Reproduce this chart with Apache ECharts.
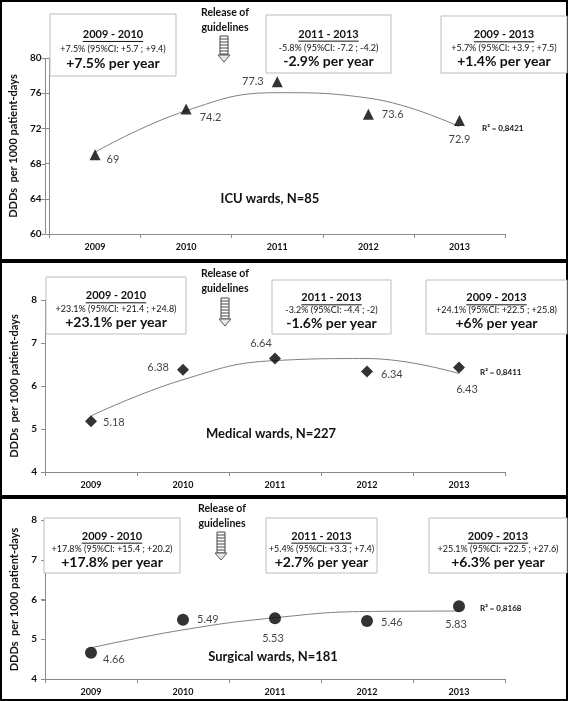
<!DOCTYPE html>
<html><head><meta charset="utf-8">
<script src="https://cdn.jsdelivr.net/npm/echarts@6/dist/echarts.min.js"></script>
<style>html,body{margin:0;padding:0;background:#fff}#c{width:568px;height:701px}</style>
</head><body><div id="c"></div>
<script>
// ---------- DATA ----------
const years = ['2009', '2010', '2011', '2012', '2013'];
const icuValues = [69, 74.2, 77.3, 73.6, 72.9];
const medicalValues = [5.18, 6.38, 6.64, 6.34, 6.43];
const surgicalValues = [4.66, 5.49, 5.53, 5.46, 5.83];
const icuAxis = { min: 60, max: 80, interval: 4 };
const wardAxis = { min: 4, max: 8, interval: 1 };
const panelTitles = ['ICU wards, N=85', 'Medical wards, N=227', 'Surgical wards, N=181'];
const r2Labels = ['R² = 0,8421', 'R² = 0,8411', 'R² = 0,8168'];
const yAxisTitle = 'DDDs  per 1000 patient-days';
const releaseText = 'Release of\nguidelines';
const icuBoxes = [
  ['2009 - 2010', '+7.5% (95%CI: +5.7 ; +9.4)', '+7.5% per year'],
  ['2011 - 2013', '-5.8% (95%CI: -7.2 ; -4.2)', '-2.9% per year'],
  ['2009 - 2013', '+5.7% (95%CI: +3.9 ; +7.5)', '+1.4% per year']
];
const medicalBoxes = [
  ['2009 - 2010', '+23.1% (95%CI: +21.4 ; +24.8)', '+23.1% per year'],
  ['2011 - 2013', '-3.2% (95%CI: -4.4 ; -2)', '-1.6% per year'],
  ['2009 - 2013', '+24.1% (95%CI: +22.5 ; +25.8)', '+6% per year']
];
const surgicalBoxes = [
  ['2009 - 2010', '+17.8% (95%CI: +15.4 ; +20.2)', '+17.8% per year'],
  ['2011 - 2013', '+5.4% (95%CI: +3.3 ; +7.4)', '+2.7% per year'],
  ['2009 - 2013', '+25.1% (95%CI: +22.5 ; +27.6)', '+6.3% per year']
];

// ---------- LAYOUT / STYLE ----------
const FONT = 'Lato, "Open Sans", sans-serif';
const GRID_LEFT = 45, GRID_WIDTH = 460;
const AXIS_COLOR = '#8a8a8a';
const panels = [
  { values: icuValues, axis: icuAxis, boxes: icuBoxes, symbol: 'triangle', size: 11,
    frame: [1, 1, 566, 259], grid: { top: 58, height: 176 },
    boxRects: [[50, 14, 126, 62], [266, 15, 125, 58], [441, 16, 126, 57]],
    release: { x: 225, y: 5 }, arrow: { x: 224, y: 36, h: 26 },
    title: { x: 270, y: 199 }, r2: { x: 482, y: 128 },
    labels: [['right', [0, 5]], ['right', [2, 8]], ['left', [-2, 0]], ['right', [2, 0]], ['bottom', [0, 2]]] },
  { values: medicalValues, axis: wardAxis, boxes: medicalBoxes, symbol: 'diamond', size: 12,
    frame: [1, 262, 566, 234], grid: { top: 300, height: 172 },
    boxRects: [[46, 277, 140, 57], [272, 280, 119, 54], [426, 280, 141, 54]],
    release: { x: 225, y: 266 }, arrow: { x: 225, y: 298, h: 28 },
    title: { x: 271, y: 434 }, r2: { x: 480, y: 372 },
    labels: [['right', [0, 1]], ['left', [-2, -2]], ['top', [-14, 2]], ['right', [2, 3]], ['bottom', [8, 4]]] },
  { values: surgicalValues, axis: wardAxis, boxes: surgicalBoxes, symbol: 'circle', size: 12,
    frame: [1, 498, 566, 202], grid: { top: 520, height: 159 },
    boxRects: [[44, 518, 136, 55], [266, 518, 111, 55], [429, 518, 138, 55]],
    release: { x: 222, y: 501 }, arrow: { x: 221, y: 532, h: 28 },
    title: { x: 273, y: 657 }, r2: { x: 480, y: 608 },
    labels: [['right', [0, 7]], ['right', [2, 0]], ['bottom', [-2, 3]], ['right', [2, 1]], ['bottom', [-3, 1]]] }
];

// quadratic least-squares trend (Excel polynomial order 2)
function quadFit(ys) {
  let S = [0, 0, 0, 0, 0], T = [0, 0, 0];
  ys.forEach((y, i) => {
    for (let k = 0; k < 5; k++) S[k] += Math.pow(i, k);
    for (let k = 0; k < 3; k++) T[k] += Math.pow(i, k) * y;
  });
  const A = [[S[0], S[1], S[2], T[0]], [S[1], S[2], S[3], T[1]], [S[2], S[3], S[4], T[2]]];
  for (let i = 0; i < 3; i++) {
    for (let j = i + 1; j < 3; j++) {
      const f = A[j][i] / A[i][i];
      for (let k = i; k < 4; k++) A[j][k] -= f * A[i][k];
    }
  }
  const c = [0, 0, 0];
  for (let i = 2; i >= 0; i--) {
    let s = A[i][3];
    for (let k = i + 1; k < 3; k++) s -= A[i][k] * c[k];
    c[i] = s / A[i][i];
  }
  return t => c[0] + c[1] * t + c[2] * t * t;
}

const mctx = document.createElement('canvas').getContext('2d');
function textWidth(txt, font) { mctx.font = font; return mctx.measureText(txt).width; }

const grids = [], xAxes = [], yAxes = [], series = [], graphics = [];
panels.forEach((p, i) => {
  grids.push({ left: GRID_LEFT, width: GRID_WIDTH, top: p.grid.top, height: p.grid.height });
  xAxes.push({
    type: 'category', gridIndex: i, data: years, boundaryGap: true, position: 'bottom',
    axisLine: { show: true, onZero: false, lineStyle: { color: AXIS_COLOR, width: 1 } },
    axisTick: { show: true, length: 4, lineStyle: { color: AXIS_COLOR } },
    axisLabel: { color: '#111', fontFamily: FONT, fontWeight: 'bold', fontSize: 9, margin: 9 },
    splitLine: { show: false }
  });
  yAxes.push({
    type: 'value', gridIndex: i, position: 'left', min: p.axis.min, max: p.axis.max, interval: p.axis.interval,
    name: yAxisTitle, nameLocation: 'middle', nameGap: 25, nameRotate: 90,
    nameTextStyle: { color: '#111', fontFamily: FONT, fontWeight: 'bold', fontSize: 11 },
    axisLine: { show: true, onZero: false, lineStyle: { color: AXIS_COLOR, width: 1 } },
    axisTick: { show: true, inside: false, length: 4, lineStyle: { color: AXIS_COLOR, width: 1 } },
    axisLabel: { color: '#111', fontFamily: FONT, fontWeight: 'bold', fontSize: 10, margin: 8 },
    splitLine: { show: false }
  });
  const f = quadFit(p.values);
  series.push({
    type: 'line', xAxisIndex: i, yAxisIndex: i, data: years.map((y, k) => f(k)),
    smooth: 0.45, showSymbol: false, silent: true,
    lineStyle: { color: '#808080', width: 1 }, z: 2
  });
  series.push({
    type: 'scatter', xAxisIndex: i, yAxisIndex: i, symbol: p.symbol, symbolSize: p.size,
    itemStyle: { color: '#000' }, z: 3,
    data: p.values.map((v, k) => ({
      value: v,
      label: { show: true, position: p.labels[k][0], offset: p.labels[k][1], distance: 6,
        formatter: String(v), color: '#111', fontFamily: FONT, fontSize: 11 }
    }))
  });

  graphics.push({ type: 'rect', shape: { x: p.frame[0], y: p.frame[1], width: p.frame[2], height: p.frame[3] },
    style: { fill: 'none', stroke: '#000', lineWidth: 2 }, z: 1 });
  p.boxRects.forEach((r, b) => {
    const [x, y, w, h] = r;
    const cx = x + w / 2;
    const lines = p.boxes[b];
    graphics.push({ type: 'rect', shape: { x, y, width: w, height: h },
      style: { fill: '#fff', stroke: '#bdbdbd', lineWidth: 1 }, z: 10 });
    const tFont = 'bold 11px ' + FONT;
    const ty = y + h * 0.33;
    graphics.push({ type: 'text', x: cx, y: ty, z: 11,
      style: { text: lines[0], font: tFont, fill: '#111', textAlign: 'center', textVerticalAlign: 'middle' } });
    const tw = textWidth(lines[0], tFont);
    graphics.push({ type: 'line', z: 11, shape: { x1: cx - tw / 2, y1: ty + 7, x2: cx + tw / 2, y2: ty + 7 },
      style: { stroke: '#111', lineWidth: 1 } });
    graphics.push({ type: 'text', x: cx, y: y + h * 0.565, z: 11,
      style: { text: lines[1], font: '9px ' + FONT, fill: '#111', textAlign: 'center', textVerticalAlign: 'middle' } });
    graphics.push({ type: 'text', x: cx, y: y + h * 0.8, z: 11,
      style: { text: lines[2], font: 'bold 14px ' + FONT, fill: '#111', textAlign: 'center', textVerticalAlign: 'middle' } });
  });
  graphics.push({ type: 'text', x: p.release.x, y: p.release.y, z: 11,
    style: { text: releaseText, font: 'bold 10.5px ' + FONT, fill: '#111', textAlign: 'center', lineHeight: 15 } });
  const ax = p.arrow.x, ay = p.arrow.y, ah = p.arrow.h;
  const shaftH = ah - 7;
  graphics.push({ type: 'rect', z: 11, shape: { x: ax - 4, y: ay, width: 8, height: shaftH },
    style: { fill: '#fff', stroke: '#444', lineWidth: 1 } });
  for (let yy = ay + 3; yy < ay + shaftH; yy += 3) {
    graphics.push({ type: 'line', z: 11, shape: { x1: ax - 4, y1: yy, x2: ax + 4, y2: yy },
      style: { stroke: '#444', lineWidth: 1 } });
  }
  graphics.push({ type: 'polygon', z: 11,
    shape: { points: [[ax - 6, ay + shaftH], [ax + 6, ay + shaftH], [ax, ay + ah]] },
    style: { fill: '#e8e8e8', stroke: '#555', lineWidth: 1 } });
  graphics.push({ type: 'text', x: p.title.x, y: p.title.y, z: 11,
    style: { text: panelTitles[i], font: 'bold 13px ' + FONT, fill: '#111', textAlign: 'center', textVerticalAlign: 'middle' } });
  graphics.push({ type: 'text', x: p.r2.x, y: p.r2.y, z: 11,
    style: { text: r2Labels[i], font: 'bold 8px ' + FONT, fill: '#111', textAlign: 'left', textVerticalAlign: 'middle' } });
});

const chart = echarts.init(document.getElementById('c'), null, { renderer: 'canvas' });
chart.setOption({
  animation: false,
  backgroundColor: '#fff',
  grid: grids, xAxis: xAxes, yAxis: yAxes, series: series
});

// reinforce the vertical axis line and its ticks, positioned through the y axis scale
panels.forEach((p, i) => {
  try {
    const yTop = chart.convertToPixel({ yAxisIndex: i }, p.axis.max);
    const yBot = chart.convertToPixel({ yAxisIndex: i }, p.axis.min);
    if (isFinite(yTop) && isFinite(yBot)) {
      const xl = Math.round(GRID_LEFT) + 0.5;
      graphics.push({ type: 'line', z: 5, shape: { x1: xl, y1: yTop, x2: xl, y2: yBot },
        style: { stroke: AXIS_COLOR, lineWidth: 1 } });
      for (let v = p.axis.min; v <= p.axis.max + 1e-9; v += p.axis.interval) {
        const yy = Math.round(chart.convertToPixel({ yAxisIndex: i }, v)) + 0.5;
        graphics.push({ type: 'line', z: 5, shape: { x1: xl - 4, y1: yy, x2: xl, y2: yy },
          style: { stroke: AXIS_COLOR, lineWidth: 1 } });
      }
    }
  } catch (e) {}
});
chart.setOption({ graphic: { elements: graphics } });
</script></body></html>
